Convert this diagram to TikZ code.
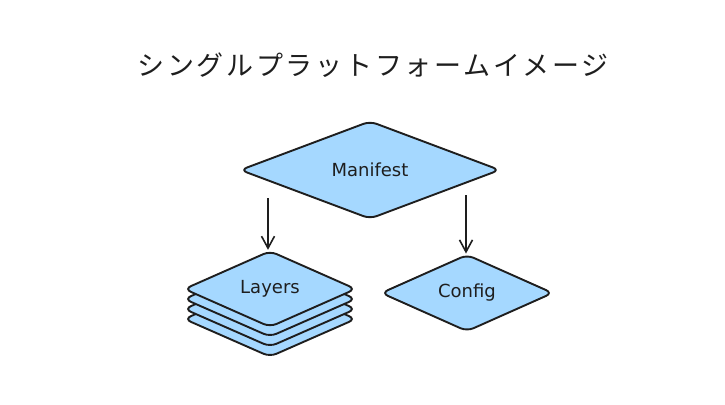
\documentclass[tikz,border=0pt]{standalone}
\usepackage{fontspec}
\setmainfont{DejaVu Sans}
\newfontfamily\jpfont[LetterSpace=10]{Noto Sans CJK JP}
\usetikzlibrary{shapes.geometric,arrows.meta}
\definecolor{fillblue}{HTML}{A5D8FF}
\definecolor{ink}{HTML}{1E1E1E}
\tikzset{
  dia/.style={diamond, draw=ink, fill=fillblue, line width=1.9pt, rounded corners=7pt, inner sep=0pt, font=\fontsize{18}{21}\selectfont, text=ink},
  arr/.style={draw=ink, line width=1.8pt, -{Straight Barb[length=12pt,width=13pt,line width=1.6pt]}},
}
\begin{document}
\begin{tikzpicture}[x=1pt,y=-1pt]
\useasboundingbox (0,0) rectangle (725,404);
\node[font=\jpfont\fontsize{27}{30}\selectfont, text=ink] (title) at (373,65) {シングルプラットフォームイメージ};
\node[dia, minimum width=260pt, minimum height=98pt] (manifest) at (370,170) {Manifest};
\node[dia, minimum width=172pt, minimum height=76pt] (layers3) at (270,319) {};
\node[dia, minimum width=172pt, minimum height=76pt] (layers2) at (270,309) {};
\node[dia, minimum width=172pt, minimum height=76pt] (layers1) at (270,299) {};
\node[dia, minimum width=172pt, minimum height=76pt] (layers) at (270,289) {Layers};
\node[dia, minimum width=172pt, minimum height=77pt] (config) at (467,293) {Config};
\coordinate (a1) at (268,198);
\coordinate (a2) at (466,195);
\draw[arr] (a1) -- (a1 |- layers.north);
\draw[arr] (a2) -- (a2 |- config.north);
\end{tikzpicture}
\end{document}
